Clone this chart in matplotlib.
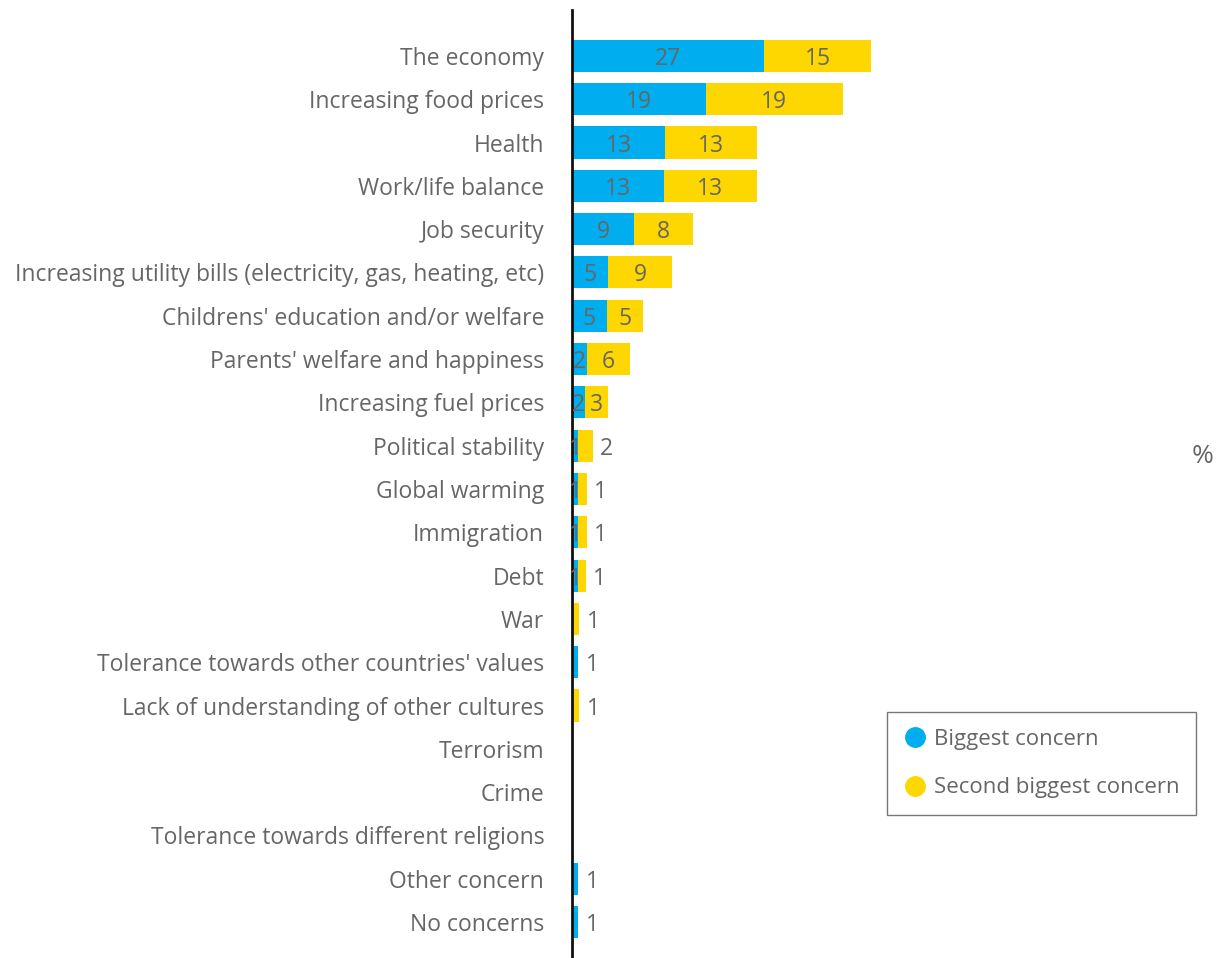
import matplotlib.pyplot as plt
from matplotlib.lines import Line2D

categories = [
    "The economy",
    "Increasing food prices",
    "Health",
    "Work/life balance",
    "Job security",
    "Increasing utility bills (electricity, gas, heating, etc)",
    "Childrens' education and/or welfare",
    "Parents' welfare and happiness",
    "Increasing fuel prices",
    "Political stability",
    "Global warming",
    "Immigration",
    "Debt",
    "War",
    "Tolerance towards other countries' values",
    "Lack of understanding of other cultures",
    "Terrorism",
    "Crime",
    "Tolerance towards different religions",
    "Other concern",
    "No concerns",
]
biggest = [27, 18.8, 13.1, 12.9, 8.7, 5.1, 4.9, 2.1, 1.8, 0.85, 0.85, 0.85, 0.85,
           0, 0.85, 0, 0, 0, 0, 0.85, 0.85]
second = [15, 19.2, 12.9, 13.1, 8.3, 9.0, 5.1, 6.0, 3.2, 2.1, 1.25, 1.25, 1.1,
          1.0, 0, 1.0, 0, 0, 0, 0, 0]
series_names = ["Biggest concern", "Second biggest concern"]

BLUE = "#00AEEF"
YELLOW = "#FFD700"
TEXT = "#666666"
plt.rcParams['font.family'] = ['Open Sans', 'DejaVu Sans']

fig = plt.figure(figsize=(12.28, 9.58), dpi=100)
ax = fig.add_axes([572 / 1228, 0, 618 / 1228, 1 - 10 / 958])

y = list(range(len(categories)))
h = 0.74
ax.barh(y, biggest, height=h, color=BLUE, left=0)
ax.barh(y, second, height=h, color=YELLOW, left=biggest)

# подписи значений
fs = 16.5
for i in y:
    b, s = biggest[i], second[i]
    if b > 0:
        if s == 0 and b < 2.5:
            ax.annotate(str(round(b)), (b, i), xytext=(10, 0), textcoords="offset points",
                        ha="center", va="center_baseline", color=TEXT, fontsize=fs)
        else:
            ax.text(b / 2, i, str(round(b)), ha="center", va="center_baseline", color=TEXT, fontsize=fs)
    if s > 0:
        if s < 2.5:
            ax.annotate(str(round(s)), (b + s, i), xytext=(10, 0), textcoords="offset points",
                        ha="center", va="center_baseline", color=TEXT, fontsize=fs)
        else:
            ax.text(b + s / 2, i, str(round(s)), ha="center", va="center_baseline", color=TEXT, fontsize=fs)

ax.set_xlim(0, 618 / 7.12)
ax.set_ylim(20.83, -1.06)
ax.set_yticks(y)
ax.set_yticklabels(categories, fontsize=fs, color=TEXT)
ax.tick_params(axis="y", length=0, pad=20)
ax.set_xticks([])
for sp in ["top", "right", "bottom"]:
    ax.spines[sp].set_visible(False)
ax.spines["left"].set_linewidth(2)
ax.spines["left"].set_color("#111111")

fig.text(1203 / 1228, 1 - 457 / 958, "%", ha="center", va="center", color=TEXT, fontsize=19)

handles = [Line2D([], [], marker="o", linestyle="", markersize=14, color=c) for c in (BLUE, YELLOW)]
leg = fig.legend(handles, series_names, loc="upper left",
                 bbox_to_anchor=(887 / 1228, 1 - 712 / 958), fontsize=16,
                 frameon=True, fancybox=False, handletextpad=0.35, labelspacing=1.25,
                 borderpad=0.75, borderaxespad=0, handlelength=1.0, labelcolor=TEXT)
leg.get_frame().set_edgecolor("#555555")
leg.get_frame().set_linewidth(1)

fig.savefig("out.png", dpi=100)
